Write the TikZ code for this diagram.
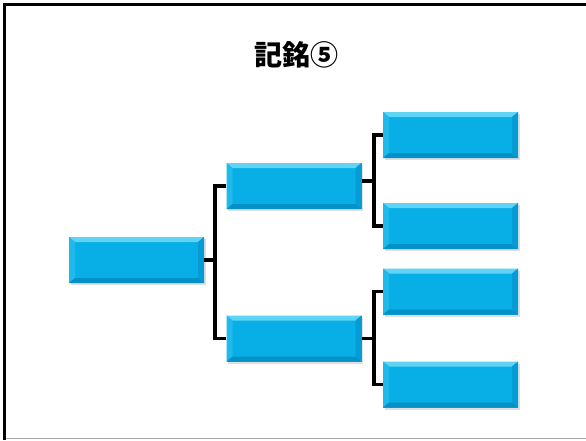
\documentclass[tikz,border=0pt]{standalone}
\usepackage{fontspec}
\newfontfamily\cjk{Noto Sans CJK JP}[BoldFont={Noto Sans CJK JP Black}]
\usetikzlibrary{shadows}
\definecolor{bevmain}{RGB}{8,174,230}
\definecolor{bevtop}{RGB}{95,212,245}
\definecolor{bevleft}{RGB}{30,186,236}
\definecolor{bevright}{RGB}{5,155,212}
\definecolor{bevbot}{RGB}{4,145,200}
\tikzset{
  bev/.style={minimum width=135pt, minimum height=46pt, inner sep=0pt, fill=bevmain,
    drop shadow={shadow xshift=1.5pt, shadow yshift=-2pt, opacity=0.25, fill=gray},
    path picture={
      \fill[bevtop] (path picture bounding box.north west) -- (path picture bounding box.north east)
        -- ([xshift=-6pt,yshift=-5pt]path picture bounding box.north east) -- ([xshift=6pt,yshift=-5pt]path picture bounding box.north west) -- cycle;
      \fill[bevleft] (path picture bounding box.north west) -- ([xshift=6pt,yshift=-5pt]path picture bounding box.north west)
        -- ([xshift=6pt,yshift=5pt]path picture bounding box.south west) -- (path picture bounding box.south west) -- cycle;
      \fill[bevright] (path picture bounding box.north east) -- ([xshift=-6pt,yshift=-5pt]path picture bounding box.north east)
        -- ([xshift=-6pt,yshift=5pt]path picture bounding box.south east) -- (path picture bounding box.south east) -- cycle;
      \fill[bevbot] (path picture bounding box.south west) -- ([xshift=6pt,yshift=5pt]path picture bounding box.south west)
        -- ([xshift=-6pt,yshift=5pt]path picture bounding box.south east) -- (path picture bounding box.south east) -- cycle;
    }},
  conn/.style={line width=3.5pt, black, line join=miter}
}
\begin{document}
\begin{tikzpicture}[x=1pt,y=-1pt]
\useasboundingbox (0,0) rectangle (586,440);
\fill[white] (0,0) rectangle (586,440);
\draw[line width=3pt] (4.5,440) -- (4.5,4.5) -- (586,4.5);
\draw[line width=1.5pt, gray!70] (6,438.5) -- (586,438.5);
\node[font=\cjk\bfseries\fontsize{28}{32}\selectfont] (title) at (296,55) {記銘⑤};
\node[bev] (root) at (136.5,260) {};
\node[bev] (ma) at (294,186) {};
\node[bev] (mb) at (294,338.5) {};
\node[bev] (r1) at (450.5,135) {};
\node[bev] (r2) at (450.5,226) {};
\node[bev] (r3) at (450.5,291.5) {};
\node[bev] (r4) at (450.5,384.5) {};
\coordinate (j1) at (215,260);
\coordinate (j2) at (374,181);
\coordinate (j3) at (374,338.5);
\draw[conn] (root.east) -- (j1);
\draw[conn] (ma.west) -| (j1) |- (mb.west);
\draw[conn] (ma.east |- j2) -- (j2);
\draw[conn] (r1.west) -| (j2) |- (r2.west);
\draw[conn] (mb.east) -- (j3);
\draw[conn] (r3.west) -| (j3) |- (r4.west);
\end{tikzpicture}
\end{document}
